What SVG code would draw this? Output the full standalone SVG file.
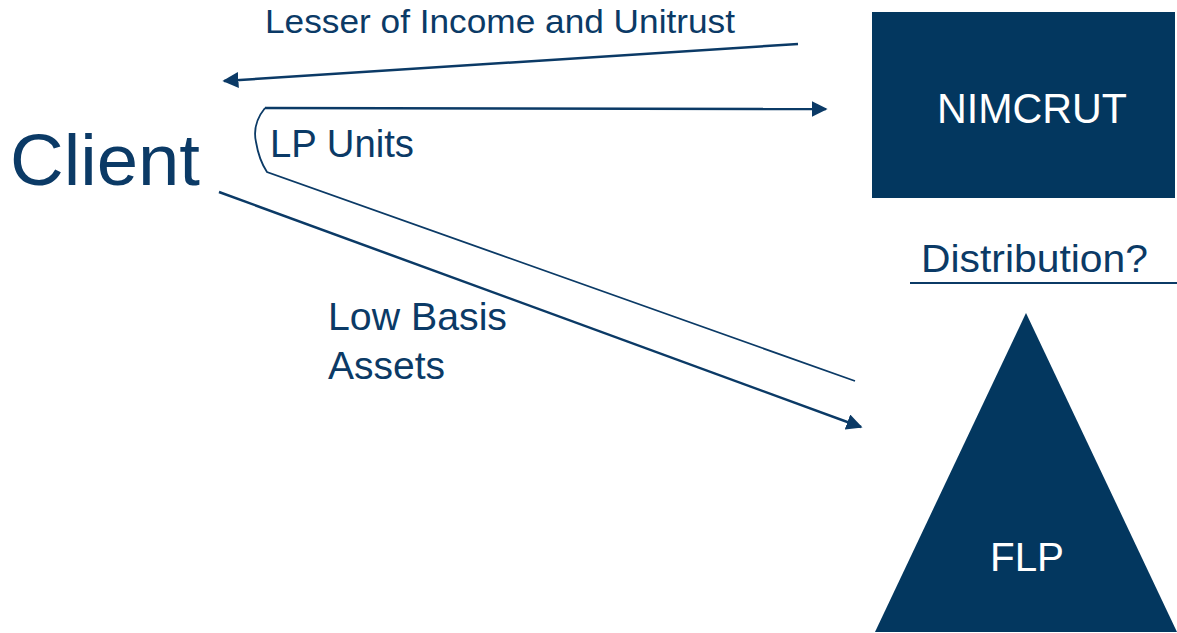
<svg xmlns="http://www.w3.org/2000/svg" width="1177" height="633" viewBox="0 0 1177 633">
  <style>
    .lbl { font-family: "Liberation Sans", Arial, sans-serif; fill: #0b3a66; }
    .inv { font-family: "Liberation Sans", Arial, sans-serif; fill: #ffffff; }
    .shape { fill: #03375f; }
    .ln { stroke: #0b3a66; fill: none; }
  </style>
  <defs>
    <marker id="ahBig" viewBox="0 0 10 10" refX="9" refY="5" markerWidth="16" markerHeight="16" markerUnits="userSpaceOnUse" orient="auto">
      <path d="M0,0 L10,5 L0,10 z" fill="#0b3a66"/>
    </marker>
  </defs>
  <rect width="1177" height="633" fill="#ffffff"/>

  <g id="client">
    <text class="lbl" x="10" y="185" font-size="72" textLength="190" lengthAdjust="spacingAndGlyphs">Client</text>
  </g>

  <g id="nimcrut">
    <rect class="shape" x="872" y="12" width="303" height="186"/>
    <text class="inv" x="1032" y="123" font-size="42" text-anchor="middle" textLength="190" lengthAdjust="spacingAndGlyphs">NIMCRUT</text>
  </g>

  <g id="flp">
    <polygon class="shape" points="1026,313 1177,632 875,632"/>
    <text class="inv" x="1027" y="571" font-size="40" text-anchor="middle" textLength="74" lengthAdjust="spacingAndGlyphs">FLP</text>
  </g>

  <g id="distribution">
    <text class="lbl" x="921" y="272" font-size="39" textLength="227" lengthAdjust="spacingAndGlyphs">Distribution?</text>
    <line class="ln" x1="910" y1="283" x2="1177" y2="283" stroke-width="2"/>
  </g>

  <g id="connectors">
    <!-- income / unitrust payment back to the client -->
    <line class="ln" x1="798" y1="44" x2="224" y2="81" stroke-width="2.5" marker-end="url(#ahBig)"/>
    <!-- LP units bracket: one leg to the trust, one from the partnership -->
    <line class="ln" x1="265" y1="108" x2="826" y2="109" stroke-width="2.5" marker-end="url(#ahBig)"/>
    <path class="ln" d="M265,108 Q252,124 256,142 Q259,160 267,172 L855,381" stroke-width="1.8"/>
    <!-- low basis assets into the partnership -->
    <line class="ln" x1="219" y1="192" x2="861" y2="427" stroke-width="2.5" marker-end="url(#ahBig)"/>
  </g>

  <g id="labels">
    <text class="lbl" x="265" y="33" font-size="33" textLength="470" lengthAdjust="spacingAndGlyphs">Lesser of Income and Unitrust</text>
    <text class="lbl" x="270" y="157" font-size="39" textLength="144" lengthAdjust="spacingAndGlyphs">LP Units</text>
    <text class="lbl" x="328" y="330" font-size="39" textLength="179" lengthAdjust="spacingAndGlyphs">Low Basis</text>
    <text class="lbl" x="328" y="379" font-size="39" textLength="117" lengthAdjust="spacingAndGlyphs">Assets</text>
  </g>
</svg>
